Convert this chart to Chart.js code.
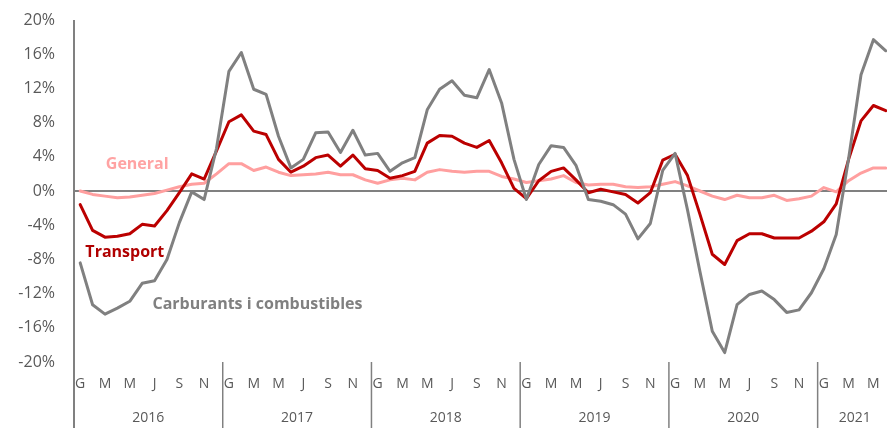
<!DOCTYPE html>
<html>
<head>
<meta charset="utf-8">
<script src="https://cdn.jsdelivr.net/npm/chart.js@4/dist/chart.umd.min.js"></script>
<style>
body { margin: 0; background: #fff; }
#wrap { width: 887px; height: 428px; overflow: hidden; }
</style>
</head>
<body>
<div id="wrap"><canvas id="myChart" width="892" height="428"></canvas></div>
<script>
// month initials (Catalan), one label per month Jan 2016 - Jun 2021
var monthLetters = ['G','F','M','A','M','J','J','A','S','O','N','D'];
var years = ['2016','2017','2018','2019','2020','2021'];

var general = [
  0.0, -0.4, -0.6, -0.8, -0.7, -0.5, -0.3, 0.1, 0.5, 0.8, 0.9, 2.0,
  3.2, 3.2, 2.4, 2.8, 2.2, 1.8, 1.9, 2.0, 2.2, 1.9, 1.9, 1.3,
  0.9, 1.3, 1.5, 1.3, 2.2, 2.5, 2.3, 2.2, 2.3, 2.3, 1.7, 1.4,
  1.0, 1.2, 1.4, 1.8, 1.0, 0.7, 0.8, 0.8, 0.5, 0.4, 0.5, 0.8,
  1.1, 0.6, 0.0, -0.6, -1.0, -0.5, -0.8, -0.8, -0.5, -1.1, -0.9, -0.6,
  0.4, -0.1, 1.2, 2.1, 2.7, 2.7
];
var transport = [
  -1.6, -4.6, -5.4, -5.3, -5.0, -3.9, -4.1, -2.3, -0.2, 2.0, 1.4, 4.7,
  8.1, 8.9, 7.0, 6.6, 3.7, 2.2, 2.9, 3.9, 4.2, 2.9, 4.2, 2.6,
  2.4, 1.5, 1.8, 2.3, 5.6, 6.5, 6.4, 5.6, 5.1, 5.9, 3.3, 0.3,
  -0.9, 1.2, 2.3, 2.7, 1.3, -0.2, 0.2, -0.1, -0.4, -1.4, -0.2, 3.6,
  4.3, 1.8, -2.7, -7.4, -8.6, -5.8, -5.0, -5.0, -5.5, -5.5, -5.5, -4.7,
  -3.6, -1.5, 3.7, 8.2, 10.0, 9.4
];
var carburants = [
  -8.4, -13.3, -14.4, -13.7, -12.9, -10.8, -10.5, -8.0, -3.7, -0.1, -1.0, 5.0,
  14.0, 16.2, 11.9, 11.3, 6.4, 2.7, 3.7, 6.8, 6.9, 4.5, 7.1, 4.2,
  4.4, 2.3, 3.3, 3.9, 9.5, 11.9, 12.9, 11.2, 10.9, 14.2, 10.3, 3.7,
  -1.0, 3.1, 5.3, 5.1, 3.0, -1.0, -1.2, -1.6, -2.7, -5.6, -3.8, 2.4,
  4.4, -2.2, -9.4, -16.4, -18.9, -13.3, -12.1, -11.7, -12.7, -14.2, -13.9, -11.9,
  -9.1, -5.1, 3.8, 13.6, 17.7, 16.4
];

var labels = [];
for (var i = 0; i < general.length; i++) {
  labels.push(monthLetters[i % 12]);
}

var axisGrey = '#808080';
var textGrey = '#595959';
var font = '"Open Sans", "DejaVu Sans", sans-serif';

var yearPlugin = {
  id: 'yearPlugin',
  afterDraw: function(chart) {
    var c = chart.ctx;
    var xs = chart.scales.x;
    var ys = chart.scales.y;
    var area = chart.chartArea;
    var step = xs.getPixelForValue(1) - xs.getPixelForValue(0);
    c.save();
    c.strokeStyle = axisGrey;
    c.fillStyle = textGrey;
    c.font = '14px ' + font;
    c.textAlign = 'center';
    c.textBaseline = 'middle';
    for (var i = 0; i < years.length; i++) {
      var x0 = xs.getPixelForValue(i * 12) - step / 2;
      var x1 = xs.getPixelForValue(Math.min(i * 12 + 11, 5 * 12 + 5)) + step / 2;
      if (i > 0) {
        c.lineWidth = 1.5;
        c.beginPath();
        c.moveTo(x0, area.bottom);
        c.lineTo(x0, chart.height);
        c.stroke();
      }
      c.fillText(years[i], (x0 + x1) / 2, area.bottom + 56);
    }
    // vertical axis running down through the category area
    c.lineWidth = 2;
    c.beginPath();
    c.moveTo(area.left, area.top);
    c.lineTo(area.left, chart.height);
    c.stroke();

    // series names written on the plot
    var names = [
      { t: 'General', i: 4.6, v: 3.1, col: '#ffa3a3' },
      { t: 'Transport', i: 3.6, v: -7.2, col: '#b00000' },
      { t: 'Carburants i combustibles', i: 14.3, v: -13.3, col: '#808080' }
    ];
    c.font = 'bold 16px ' + font;
    names.forEach(function(n) {
      c.fillStyle = n.col;
      c.fillText(n.t, xs.getPixelForValue(n.i), ys.getPixelForValue(n.v));
    });
    c.restore();
  }
};

var ctx = document.getElementById('myChart').getContext('2d');
var chart = new Chart(ctx, {
  type: 'line',
  data: {
    labels: labels,
    datasets: [
      { label: 'Carburants i combustibles', data: carburants, borderColor: '#808080', borderWidth: 3 },
      { label: 'Transport', data: transport, borderColor: '#bb0000', borderWidth: 3 },
      { label: 'General', data: general, borderColor: '#ff9f9f', borderWidth: 3 }
    ]
  },
  options: {
    responsive: false,
    animation: false,
    devicePixelRatio: 1,
    layout: { padding: { top: 20, right: 0, bottom: 0, left: 0 } },
    elements: { point: { radius: 0 }, line: { tension: 0, borderCapStyle: 'round', borderJoinStyle: 'round' } },
    plugins: { legend: { display: false }, tooltip: { enabled: false } },
    scales: {
      x: {
        offset: true,
        grid: { display: false },
        border: { display: false },
        ticks: {
          autoSkip: false,
          maxRotation: 0,
          padding: 6,
          color: textGrey,
          font: { family: font, size: 14 },
          callback: function(v, i) { return i % 2 === 0 ? labels[i] : ''; }
        },
        afterFit: function(s) { s.height = 66; s.paddingLeft = 0; s.paddingRight = 0; }
      },
      y: {
        min: -20,
        max: 20,
        border: { display: false },
        grid: {
          drawTicks: false,
          lineWidth: 2,
          color: function(c) { return c.tick && c.tick.value === 0 ? axisGrey : 'rgba(0,0,0,0)'; }
        },
        ticks: {
          stepSize: 4,
          padding: 19,
          color: textGrey,
          font: { family: font, size: 16 },
          callback: function(v) { return v + '%'; }
        },
        afterFit: function(s) { s.width = 74; s.paddingTop = 0; s.paddingBottom = 0; }
      }
    }
  },
  plugins: [yearPlugin]
});
</script>
</body>
</html>
